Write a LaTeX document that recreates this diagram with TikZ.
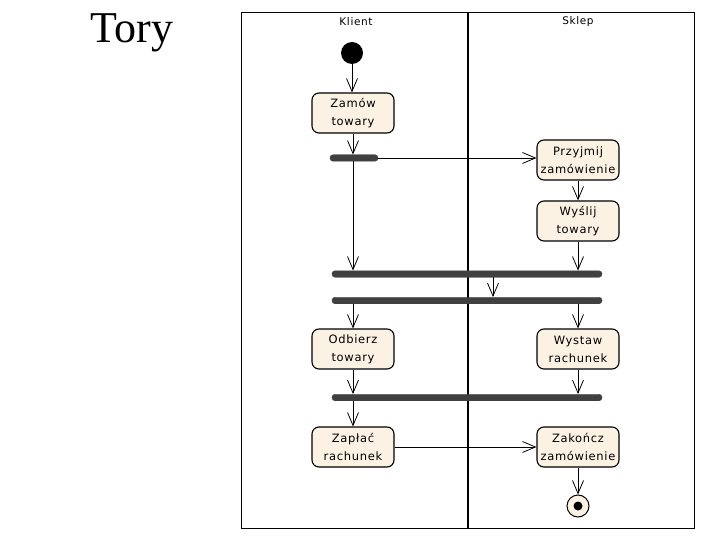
\documentclass[tikz,border=0pt]{standalone}
\usepackage{fontspec}
\setmainfont{Liberation Serif}
\newfontfamily\boxfont[LetterSpace=6]{DejaVu Sans}
\usetikzlibrary{arrows.meta}
\definecolor{actfill}{RGB}{252,242,228}
\definecolor{barcol}{RGB}{64,64,64}
\tikzset{
  act/.style={draw=black, line width=1.1pt, fill=actfill, rounded corners=7pt,
    minimum width=82pt, minimum height=40pt, inner sep=0pt, align=center,
    font=\boxfont\fontsize{11.5}{18}\selectfont},
  bar/.style={fill=barcol, draw=barcol, rounded corners=3pt, minimum height=6.5pt, inner sep=0pt},
  flow/.style={draw=black, line width=0.8pt, -{Straight Barb[length=13pt,width=11pt,line width=0.8pt]}},
  lanehead/.style={font=\boxfont\fontsize{10.5}{12}\selectfont},
}
\begin{document}
\begin{tikzpicture}[x=1pt,y=-1pt]
\useasboundingbox (0,0) rectangle (720,540);
\fill[white] (0,0) rectangle (720,540);
% title
\node[font=\fontsize{44}{50}\selectfont, anchor=base] (title) at (132,43) {Tory};
% swimlanes frame
\draw[line width=0.9pt] (241,12) rectangle (694,528);
\draw[line width=2.2pt] (468,12) -- (468,528);
\node[lanehead] (klient) at (356,22) {Klient};
\node[lanehead] (sklep) at (578,22) {Sklep};
% start
\node[circle, fill=black, minimum size=22pt, inner sep=0pt] (start) at (352,53) {};
% activities
\node[act] (zamow) at (353,113) {Zamów\\towary};
\node[act] (przyjmij) at (578,160) {Przyjmij\\zamówienie};
\node[act] (wyslij) at (578,221) {Wyślij\\towary};
\node[act] (odbierz) at (353,349) {Odbierz\\towary};
\node[act] (wystaw) at (578,349) {Wystaw\\rachunek};
\node[act] (zaplac) at (353,447) {Zapłać\\rachunek};
\node[act] (zakoncz) at (578,447) {Zakończ\\zamówienie};
% bars
\node[bar, minimum width=48pt] (bar1) at (354,158) {};
\node[bar, minimum width=270pt] (bar2) at (467,274) {};
\node[bar, minimum width=270pt] (bar3) at (467,300.5) {};
\node[bar, minimum width=270pt] (bar4) at (467,397.5) {};
% end
\node[circle, draw=black, line width=1pt, fill=actfill, minimum size=22pt, inner sep=0pt] (end) at (578,506) {};
\node[circle, fill=black, minimum size=9pt, inner sep=0pt] (endin) at (end.center) {};
% flows
\draw[flow] (start.south) -- (zamow.north -| start.south);
\draw[flow] (zamow.south) -- (bar1.north -| zamow.south);
\draw[flow] (bar1.east) -- (przyjmij.west |- bar1.east);
\draw[flow] (bar1.south -| zamow.south) -- (bar2.north -| zamow.south);
\draw[flow] (przyjmij.south) -- (wyslij.north);
\draw[flow] (wyslij.south) -- (bar2.north -| wyslij.south);
\coordinate (mid) at (493,0);
\draw[flow] (bar2.south -| mid) -- (bar3.north -| mid);
\draw[flow] (bar3.south -| odbierz.north) -- (odbierz.north);
\draw[flow] (bar3.south -| wystaw.north) -- (wystaw.north);
\draw[flow] (odbierz.south) -- (bar4.north -| odbierz.south);
\draw[flow] (wystaw.south) -- (bar4.north -| wystaw.south);
\draw[flow] (bar4.south -| zaplac.north) -- (zaplac.north);
\draw[flow] (zaplac.east) -- (zakoncz.west);
\draw[flow] (zakoncz.south) -- (end.north);
\end{tikzpicture}
\end{document}
